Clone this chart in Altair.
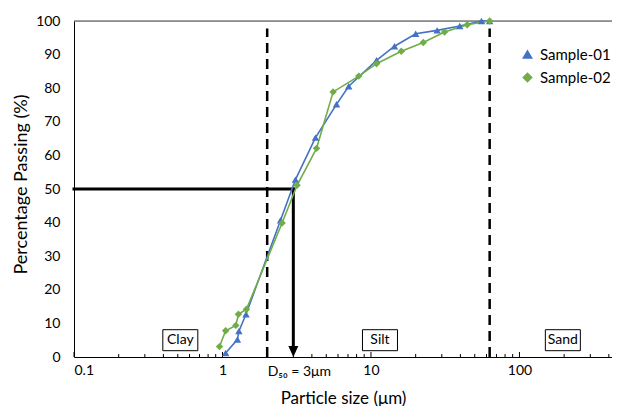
import altair as alt
import pandas as pd

# ---- data ----
s1_size = [1.05, 1.26, 1.29, 1.44, 2.46, 3.10, 4.23, 5.86, 7.08, 10.9, 14.4, 20.0, 27.9, 39.6, 55.5, 63.0]
s1_pass = [1.2, 5.2, 7.7, 12.7, 40.7, 52.8, 65.3, 75.2, 80.6, 88.3, 92.5, 96.2, 97.2, 98.5, 100, 100]
s2_size = [0.955, 1.05, 1.23, 1.28, 1.45, 2.52, 3.18, 4.30, 5.56, 8.28, 10.9, 16.0, 22.5, 31.3, 44.5, 63.0]
s2_pass = [3.1, 7.8, 9.4, 12.7, 14.2, 39.9, 51.1, 62.1, 78.9, 83.6, 87.3, 91.0, 93.6, 96.7, 98.9, 100]
series_names = ["Sample-01", "Sample-02"]
series_colors = ["#4472C4", "#70AD47"]
series_shapes = ["triangle-up", "diamond"]

boundaries = [2, 63]            # clay/silt, silt/sand (um)
d50 = 3
zone_names = ["Clay", "Silt", "Sand"]
zone_x = [0.52, 11.5, 196]
zone_y = [5, 5, 5]

x_major = [0.1, 1, 10, 100]
x_minor = [0.2, 0.3, 0.4, 0.5, 0.6, 0.7, 0.8, 0.9, 2, 3, 4, 5, 6, 7, 8, 9,
           20, 30, 40, 50, 60, 70, 80, 90, 200, 300, 400]
y_ticks = list(range(0, 101, 10))
x_domain = [0.1, 420]

W, H = 538, 336
FONT = "Lato"

df = pd.DataFrame({
    "size": s1_size + s2_size,
    "pass": s1_pass + s2_pass,
    "series": [series_names[0]] * len(s1_size) + [series_names[1]] * len(s2_size),
})

xs = alt.Scale(type="log", domain=x_domain, nice=False)
ys = alt.Scale(domain=[0, 100], nice=False)
cs = alt.Scale(domain=series_names, range=series_colors)
ss = alt.Scale(domain=series_names, range=series_shapes)

x_axis = alt.Axis(values=x_major, format="~g", title="Particle size (μm)", grid=False,
                  ticks=False, tickSize=0, labelPadding=6, labelFontSize=14, labelFont=FONT,
                  labelColor="black", domainColor="black", domainWidth=1, labelOverlap=False,
                  titleFont=FONT, titleFontSize=17, titleFontWeight="normal", titleColor="black",
                  titleBaseline="middle", titleY=41)
y_axis = alt.Axis(values=y_ticks, title="Percentage Passing (%)", grid=False,
                  ticks=False, tickSize=0, labelPadding=14, labelFontSize=14, labelFont=FONT,
                  labelColor="black", domainColor="black", domainWidth=1, labelOverlap=False,
                  titleFont=FONT, titleFontSize=18, titleFontWeight="normal", titleColor="black",
                  titleAlign="center", titleBaseline="middle", titleX=-53, titleY=163)


def X(f):
    return alt.X(f, scale=xs, axis=x_axis)


def Y(f):
    return alt.Y(f, scale=ys, axis=y_axis)


legend = alt.Legend(orient="none", legendX=446, legendY=26, title=None,
                    labelFont=FONT, labelFontSize=15, labelColor="black",
                    symbolSize=70, padding=0, rowPadding=7, labelOffset=5)

base = alt.Chart(df)

lines = base.mark_line(strokeWidth=1.6).encode(
    x=X("size:Q"), y=Y("pass:Q"),
    color=alt.Color("series:N", scale=cs, legend=legend),
    shape=alt.Shape("series:N", scale=ss, legend=legend),
)

points = base.mark_point(filled=True, opacity=1, size=55).encode(
    x=X("size:Q"), y=Y("pass:Q"),
    color=alt.Color("series:N", scale=cs, legend=legend),
    shape=alt.Shape("series:N", scale=ss, legend=legend),
)

# boundary dashed lines
bdf = pd.DataFrame({"b": boundaries, "y0": [0, 0], "y1": [97.8, 97.8]})
dashed = alt.Chart(bdf).mark_rule(color="black", strokeWidth=2.5, strokeDash=[10, 6]).encode(
    x=X("b:Q"), y=Y("y0:Q"), y2="y1:Q")

# D50 guide lines
hdf = pd.DataFrame({"x0": [x_domain[0]], "x1": [d50], "y": [50]})
hline = alt.Chart(hdf).mark_rule(color="black", strokeWidth=3, strokeCap="square").encode(
    x=X("x0:Q"), x2="x1:Q", y=Y("y:Q"))
vdf = pd.DataFrame({"x": [d50], "y0": [50], "y1": [2]})
vline = alt.Chart(vdf).mark_rule(color="black", strokeWidth=3, strokeCap="square").encode(
    x=X("x:Q"), y=Y("y0:Q"), y2="y1:Q")
adf = pd.DataFrame({"x": [d50], "y": [0]})
arrow = alt.Chart(adf).mark_point(shape="M-1,-2.2L1,-2.2L0,0Z", filled=True, color="black",
                                  opacity=1, size=100).encode(x=X("x:Q"), y=Y("y:Q"))
d50_text = alt.Chart(adf).mark_text(text="D₅₀ = 3μm", font=FONT, fontSize=14, color="black",
                                    align="center", baseline="middle", dx=6).encode(
    x=X("x:Q"), y=alt.value(H + 15))

# zone labels in boxes
zdf = pd.DataFrame({"name": zone_names, "x": zone_x, "y": zone_y})
boxes = alt.Chart(zdf).mark_point(shape="M-1,-0.6L1,-0.6L1,0.6L-1,0.6Z", filled=False,
                                  stroke="black", strokeWidth=1, fill="white", opacity=1,
                                  size=1225).encode(x=X("x:Q"), y=Y("y:Q"))
zlabels = alt.Chart(zdf).mark_text(font=FONT, fontSize=14, color="black", baseline="middle").encode(
    x=X("x:Q"), y=Y("y:Q"), text="name:N")

# inward tick marks on x axis
tdf_major = pd.DataFrame({"t": x_major})
tdf_minor = pd.DataFrame({"t": x_minor})
tmaj = alt.Chart(tdf_major).mark_rule(color="black", strokeWidth=1).encode(
    x=X("t:Q"), y=alt.value(H), y2=alt.value(H - 5))
tmin = alt.Chart(tdf_minor).mark_rule(color="black", strokeWidth=1).encode(
    x=X("t:Q"), y=alt.value(H), y2=alt.value(H - 3))

# top border line
top = alt.Chart(pd.DataFrame({"a": [0]})).mark_rule(color="#404040", strokeWidth=1).encode(
    x=alt.value(0), x2=alt.value(W), y=alt.value(0))

chart = alt.layer(
    top, tmin, tmaj, dashed, hline, vline, arrow, d50_text, boxes, zlabels, lines, points
).resolve_scale(color="shared", shape="shared").properties(
    width=W, height=H,
    autosize=alt.AutoSizeParams(type="none"),
    padding={"left": 66, "top": 13, "right": 0, "bottom": 49},
).configure_view(strokeWidth=0).configure(font=FONT)

chart.save("out.html", embed_options={"renderer": "svg", "actions": False})
